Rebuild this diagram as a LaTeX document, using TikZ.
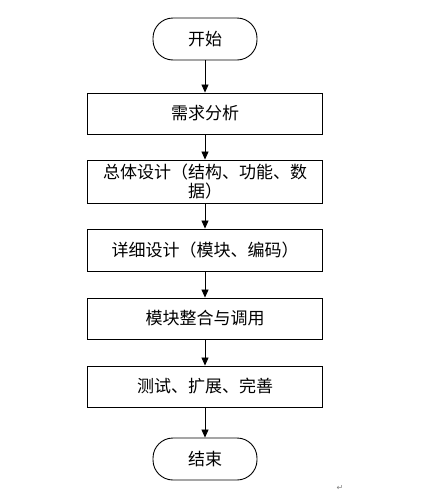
\documentclass[tikz,border=0pt]{standalone}
\usepackage{fontspec}
\setmainfont{Noto Sans CJK SC}
\newfontfamily\symfont{DejaVu Sans}
\usetikzlibrary{arrows.meta}
\begin{document}
\begin{tikzpicture}[x=1pt,y=-1pt,
  every node/.style={font=\fontsize{17}{19.5}\selectfont, inner sep=0pt},
  terminal/.style={draw=black, line width=0.9pt, rounded corners=20pt, minimum width=104pt, minimum height=42pt},
  procbox/.style={draw=black, line width=0.9pt, minimum width=235pt, minimum height=41pt, align=center},
  flow/.style={draw=black, line width=0.8pt, -{Triangle[length=8pt,width=7pt]}}]
\useasboundingbox (0,0) rectangle (429,493);
\node[terminal] (start) at (205,39) {开始};
\node[procbox] (b1) at (205,113.5) {需求分析};
\node[procbox, minimum height=43pt] (b2) at (205,181.5) {总体设计（结构、功能、数\\据）};
\node[procbox, minimum height=42pt] (b3) at (205,250) {详细设计（模块、编码）};
\node[procbox] (b4) at (205,318.5) {模块整合与调用};
\node[procbox] (b5) at (205,386.5) {测试、扩展、完善};
\node[terminal] (end) at (205,459) {结束};
\node[text=gray, font=\symfont\fontsize{8}{8}\selectfont] (ret) at (340,488) {↵};
\draw[flow] (start) -- (b1);
\draw[flow] (b1) -- (b2);
\draw[flow] (b2) -- (b3);
\draw[flow] (b3) -- (b4);
\draw[flow] (b4) -- (b5);
\draw[flow] (b5) -- (end);
\end{tikzpicture}
\end{document}
